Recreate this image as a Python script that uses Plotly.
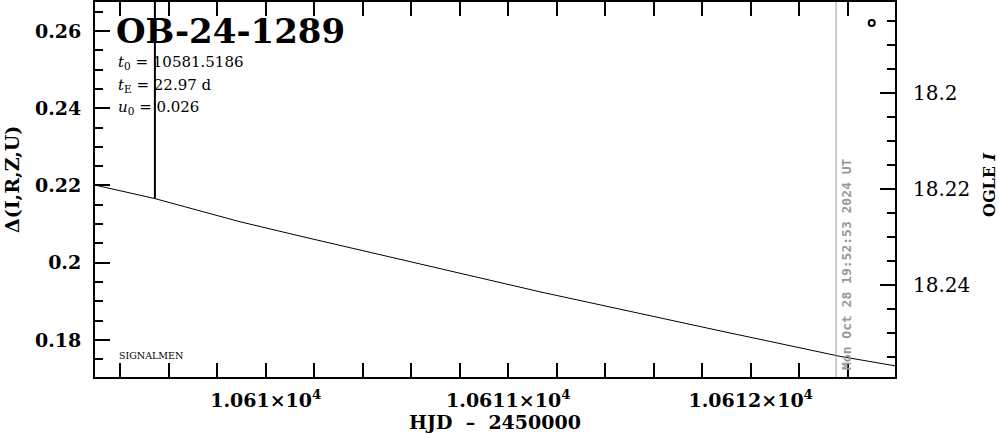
import plotly.graph_objects as go

# Model curve
model_hjd = [10609.296, 10609.543, 10609.894, 10610.141, 10610.888, 10611.135,
             10611.877, 10612.124, 10612.372, 10612.595]
model_delta = [0.2201, 0.2166, 0.2106, 0.2069, 0.1960, 0.1924,
               0.1823, 0.1791, 0.1757, 0.1733]

# Data point whose error bar reaches into the plot
bar_hjd = [10609.543, 10609.543]
bar_delta = [0.2166, 0.30]

# OGLE point (right axis)
ogle_hjd = [10612.499]
ogle_mag = [18.1854]

x_tickvals = [10610, 10611, 10612]
x_ticktext = ["1.061×10<sup>4</sup>", "1.0611×10<sup>4</sup>", "1.0612×10<sup>4</sup>"]
y_tickvals = [0.18, 0.2, 0.22, 0.24, 0.26]
y_ticktext = ["0.18", "0.2", "0.22", "0.24", "0.26"]
y2_tickvals = [18.2, 18.22, 18.24]
y2_ticktext = ["18.2", "18.22", "18.24"]

now_hjd = 10612.352
title = "OB-24-1289"
params = ["<i>t</i><sub>0</sub> = 10581.5186",
          "<i>t</i><sub>E</sub> = 22.97 d",
          "<i>u</i><sub>0</sub> = 0.026"]
date_text = "Mon Oct 28 19:52:53 2024 UT"

SERIF = "DejaVu Serif"

fig = go.Figure()
fig.add_trace(go.Scatter(x=model_hjd, y=model_delta, mode="lines",
                         line=dict(color="black", width=1), showlegend=False,
                         hoverinfo="skip"))
fig.add_trace(go.Scatter(x=bar_hjd, y=bar_delta, mode="lines",
                         line=dict(color="black", width=2), showlegend=False))
fig.add_trace(go.Scatter(x=ogle_hjd, y=ogle_mag, mode="markers", yaxis="y2",
                         marker=dict(symbol="circle-open", size=6, color="black",
                                     line=dict(width=2, color="black")),
                         showlegend=False))

fig.add_shape(type="line", xref="x", yref="paper", x0=now_hjd, x1=now_hjd,
              y0=0, y1=1, line=dict(color="#999999", width=1))

W, H = 999, 434
L, R, T, B = 95, 104, 2, 57
pw, ph = W - L - R, H - T - B


def px(xp):
    return (xp - L) / pw


def py(yp):
    return (H - B - yp) / ph


ann = []
ann.append(dict(text=title, x=px(114), y=py(31), xanchor="left", yanchor="middle",
                font=dict(family=SERIF, size=34, color="black", weight="bold")))
for i, t in enumerate(params):
    ann.append(dict(text=t, x=px(116), y=py(62 + 23 * i), xanchor="left",
                    yanchor="middle",
                    font=dict(family=SERIF, size=15, color="black")))
ann.append(dict(text="SIGNALMEN", x=px(117), y=py(355), xanchor="left",
                yanchor="middle", font=dict(family=SERIF, size=9.5, color="black")))
ann.append(dict(text=date_text, x=px(846), y=py(265), xanchor="center",
                yanchor="middle", textangle=-90,
                font=dict(family="DejaVu Sans Mono", size=13, color="#999999",
                          weight="bold")))
ann.append(dict(text="Δ(I,R,Z,U)", x=px(12), y=py(180), xanchor="center",
                yanchor="middle", textangle=-90,
                font=dict(family=SERIF, size=19, color="black", weight="bold")))
ann.append(dict(text="OGLE <i>I</i>", x=px(989), y=py(185), xanchor="center",
                yanchor="middle", textangle=-90,
                font=dict(family=SERIF, size=16, color="black", weight="bold")))
ann.append(dict(text="HJD  –  2450000", x=px(495), y=py(422), xanchor="center",
                yanchor="middle",
                font=dict(family=SERIF, size=19, color="black", weight="bold")))
for a in ann:
    a.update(xref="paper", yref="paper", showarrow=False)

fig.update_layout(
    width=W, height=H,
    margin=dict(l=L, r=R, t=T, b=B, pad=0, autoexpand=False),
    paper_bgcolor="white", plot_bgcolor="white",
    showlegend=False,
    annotations=ann,
    xaxis=dict(range=[10609.296, 10612.595], showgrid=False, zeroline=False,
               automargin=False,
               showline=True, linecolor="black", linewidth=2, mirror="allticks",
               ticks="inside", ticklen=14, tickwidth=2, tickcolor="black",
               tickmode="array", tickvals=x_tickvals, ticktext=x_ticktext,
               tickfont=dict(family=SERIF, size=19, color="black", weight="bold"),
               ticklabelstandoff=5,
               minor=dict(ticks="inside", ticklen=7, tickwidth=2, tickcolor="black",
                          dtick=0.2, tick0=10610, showgrid=False)),
    yaxis=dict(range=[0.1704, 0.2675], showgrid=False, zeroline=False,
               automargin=False,
               showline=True, linecolor="black", linewidth=2,
               ticks="inside", ticklen=15, tickwidth=2, tickcolor="black",
               tickmode="array", tickvals=y_tickvals, ticktext=y_ticktext,
               tickfont=dict(family=SERIF, size=19, color="black", weight="bold"),
               ticklabelstandoff=8,
               minor=dict(ticks="inside", ticklen=8, tickwidth=2, tickcolor="black",
                          dtick=0.005, tick0=0.18, showgrid=False)),
    yaxis2=dict(range=[18.2592, 18.181], overlaying="y", side="right",
                showgrid=False, zeroline=False, automargin=False,
                showline=True, linecolor="black", linewidth=2,
                ticks="inside", ticklen=15, tickwidth=2, tickcolor="black",
                tickmode="array", tickvals=y2_tickvals, ticktext=y2_ticktext,
                tickfont=dict(family=SERIF, size=20, color="black"),
                ticklabelstandoff=12,
                minor=dict(ticks="inside", ticklen=8, tickwidth=2, tickcolor="black",
                           dtick=0.005, tick0=18.2, showgrid=False)),
)

fig.write_html("out.html", config={"displayModeBar": False},
               post_script="document.body.style.margin='0px';document.body.style.overflow='hidden';")
